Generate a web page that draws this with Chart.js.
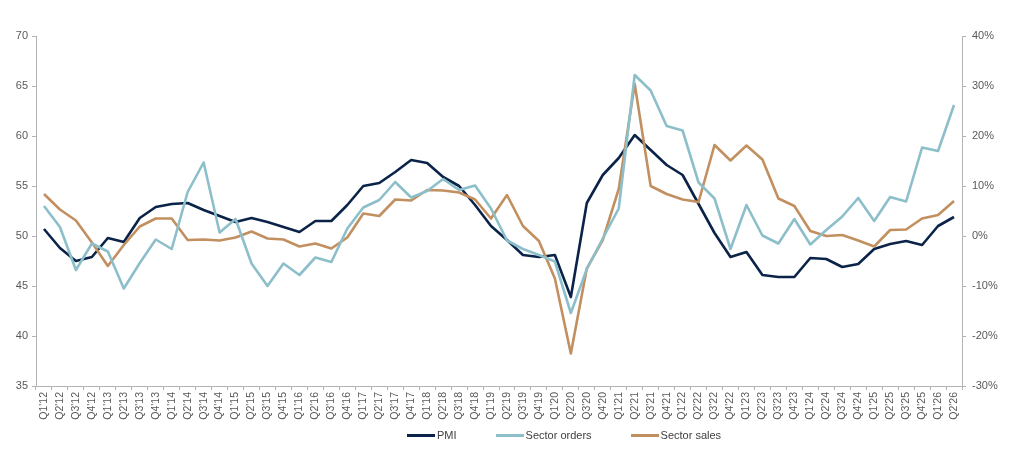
<!DOCTYPE html>
<html>
<head>
<meta charset="utf-8">
<script src="https://cdn.jsdelivr.net/npm/chart.js@4/dist/chart.umd.min.js"></script>
<style>
    html, body { margin: 0; padding: 0; background: #fff; }
    #wrap { position: relative; width: 1024px; height: 463px; }
    #legend {
        position: absolute; top: 429px; left: 407px;
        display: flex; align-items: center;
        font-family: "Liberation Sans", Arial, sans-serif; font-size: 11px; color: #404040;
    }
    .item { display: flex; align-items: center; margin-right: 39px; }
    .swatch { width: 28px; height: 3px; margin-right: 2px; }
</style>
</head>
<body>
<div id="wrap">
    <canvas id="chart" width="1024" height="463"></canvas>
    <div id="legend"></div>
</div>
<script>
// --- Data ---
const quarters = [];
for (let y = 12; y <= 26; y++) {
    for (let q = 1; q <= 4; q++) {
        if (y === 26 && q > 2) break;
        quarters.push(`Q${q}'${y}`);
    }
}

const pmi = [
    50.7, 48.8, 47.5, 47.9, 49.8, 49.4, 51.8, 52.9, 53.2, 53.3,
    52.6, 52.0, 51.4, 51.8, 51.4, 50.9, 50.4, 51.5, 51.5, 53.1,
    55.0, 55.3, 56.4, 57.6, 57.3, 55.9, 55.0, 53.1, 51.0, 49.6,
    48.1, 47.9, 48.1, 43.9, 53.3, 56.1, 57.8, 60.1, 58.6, 57.1,
    56.1, 53.2, 50.3, 47.9, 48.4, 46.1, 45.9, 45.9, 47.8, 47.7,
    46.9, 47.2, 48.7, 49.2, 49.5, 49.1, 51.0, 51.9
];

// sector series are % changes, plotted on the right axis
const sectorOrders = [
    6.0, 1.8, -6.8, -1.5, -3.1, -10.5, -5.4, -0.7, -2.6, 8.8,
    14.7, 0.7, 3.4, -5.5, -10.0, -5.5, -7.8, -4.3, -5.2, 1.5,
    5.7, 7.2, 10.8, 7.7, 9.0, 11.4, 9.2, 10.1, 5.5, -0.9,
    -2.6, -3.8, -5.1, -15.4, -6.6, -0.5, 5.5, 32.2, 29.1, 22.0,
    21.1, 10.7, 7.5, -2.6, 6.2, 0.1, -1.5, 3.4, -1.7, 1.2,
    3.9, 7.6, 3.0, 7.8, 6.9, 17.7, 17.0, 26.2
];

const sectorSales = [
    8.4, 5.3, 3.1, -1.3, -6.0, -1.8, 1.9, 3.5, 3.5, -0.8,
    -0.7, -0.9, -0.3, 0.9, -0.5, -0.7, -2.1, -1.5, -2.5, -0.3,
    4.5, 4.0, 7.3, 7.1, 9.2, 9.1, 8.7, 7.3, 3.5, 8.2,
    2.0, -1.0, -8.5, -23.5, -6.5, -0.8, 9.4, 30.4, 10.0, 8.4,
    7.3, 6.8, 18.2, 15.1, 18.1, 15.3, 7.5, 6.0, 1.0, 0.0,
    0.2, -0.9, -2.1, 1.2, 1.3, 3.5, 4.2, 7.0
];

const seriesNames = ['PMI', 'Sector orders', 'Sector sales'];
const seriesColors = ['#0b2349', '#8cbfca', '#c28f60'];

// --- Chart ---
const axisGray = '#b3b3b3';
const textGray = '#595959';
const font = { family: '"Liberation Sans", Arial, sans-serif', size: 11 };

const line = (i, data, axis) => ({
    label: seriesNames[i],
    data,
    yAxisID: axis,
    borderColor: seriesColors[i],
    backgroundColor: seriesColors[i],
    borderWidth: 2.6,
    pointRadius: 0,
    tension: 0,
    borderJoinStyle: 'round',
    fill: false
});

new Chart(document.getElementById('chart'), {
    type: 'line',
    data: {
        labels: quarters,
        datasets: [
            line(1, sectorOrders, 'y1'),
            line(2, sectorSales, 'y1'),
            line(0, pmi, 'y')
        ]
    },
    options: {
        responsive: false,
        animation: false,
        layout: { padding: { top: 36, left: 0, right: 0, bottom: 0 } },
        plugins: { legend: { display: false }, tooltip: { enabled: false } },
        scales: {
            x: {
                offset: true,
                grid: { offset: true, drawOnChartArea: false, tickLength: 4, color: axisGray },
                border: { color: axisGray },
                ticks: { minRotation: 90, maxRotation: 90, autoSkip: false, padding: 2, color: textGray,
                         font: { family: font.family, size: 10.5 } },
                afterFit: s => { s.height = 77; }
            },
            y: {
                position: 'left',
                min: 35, max: 70,
                ticks: { stepSize: 5, color: textGray, font, padding: 4 },
                grid: { drawOnChartArea: false, tickLength: 4, color: axisGray },
                border: { color: axisGray },
                afterFit: s => { s.width = 36; }
            },
            y1: {
                position: 'right',
                min: -30, max: 40,
                ticks: { stepSize: 10, color: textGray, font, padding: 6, callback: v => v + '%' },
                grid: { drawOnChartArea: false, tickLength: 4, color: axisGray },
                border: { color: axisGray },
                afterFit: s => { s.width = 62; }
            }
        }
    }
});

// --- Legend ---
const legend = document.getElementById('legend');
seriesNames.forEach((name, i) => {
    const item = document.createElement('div');
    item.className = 'item';
    item.innerHTML = `<span class="swatch" style="background:${seriesColors[i]}"></span><span>${name}</span>`;
    legend.appendChild(item);
});
</script>
</body>
</html>
